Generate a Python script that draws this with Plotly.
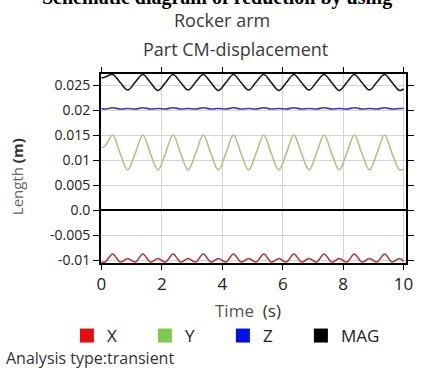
import plotly.graph_objects as go

# ---- data ----
time_s = [0.0, 0.12, 0.37, 0.62, 0.87, 1.12, 1.37, 1.62, 1.87, 2.12, 2.37, 2.62, 2.87,
          3.12, 3.37, 3.62, 3.87, 4.12, 4.37, 4.62, 4.87, 5.12, 5.37, 5.62, 5.87,
          6.12, 6.37, 6.62, 6.87, 7.12, 7.37, 7.62, 7.87, 8.12, 8.37, 8.62, 8.87,
          9.12, 9.37, 9.62, 9.87, 10.0]

mag_m = [0.0264, 0.0266, 0.0271, 0.0255, 0.0240, 0.0256, 0.0271, 0.0255, 0.0239,
         0.0255, 0.0271, 0.0255, 0.0240, 0.0256, 0.0271, 0.0255, 0.0239, 0.0255,
         0.0271, 0.0255, 0.0240, 0.0256, 0.0271, 0.0255, 0.0239, 0.0255, 0.0271,
         0.0255, 0.0240, 0.0256, 0.0271, 0.0255, 0.0239, 0.0255, 0.0271, 0.0255,
         0.0240, 0.0256, 0.0271, 0.0255, 0.0239, 0.0242]

y_m = [0.0124, 0.0128, 0.0150, 0.0113, 0.0080, 0.0114, 0.0150, 0.0113, 0.0080,
       0.0114, 0.0150, 0.0113, 0.0080, 0.0114, 0.0150, 0.0113, 0.0080, 0.0114,
       0.0150, 0.0113, 0.0080, 0.0114, 0.0150, 0.0113, 0.0080, 0.0114, 0.0150,
       0.0113, 0.0080, 0.0114, 0.0150, 0.0113, 0.0080, 0.0114, 0.0150, 0.0113,
       0.0080, 0.0114, 0.0150, 0.0113, 0.0080, 0.0082]

z_m = [0.0203, 0.0202, 0.02045, 0.0202, 0.0203, 0.0202, 0.02045, 0.0202, 0.0203,
       0.0202, 0.02045, 0.0202, 0.0203, 0.0202, 0.02045, 0.0202, 0.0203, 0.0202,
       0.02045, 0.0202, 0.0203, 0.0202, 0.02045, 0.0202, 0.0203, 0.0202, 0.02045,
       0.0202, 0.0203, 0.0202, 0.02045, 0.0202, 0.0203, 0.0202, 0.02045, 0.0202,
       0.0203, 0.0202, 0.02045, 0.0202, 0.0203, 0.0203]

x_m = [-0.0104, -0.0104, -0.0088, -0.0104, -0.0097, -0.0104, -0.0088, -0.0104, -0.0097,
       -0.0104, -0.0088, -0.0104, -0.0097, -0.0104, -0.0088, -0.0104, -0.0097, -0.0104,
       -0.0088, -0.0104, -0.0097, -0.0104, -0.0088, -0.0104, -0.0097, -0.0104, -0.0088,
       -0.0104, -0.0097, -0.0104, -0.0088, -0.0104, -0.0097, -0.0104, -0.0088, -0.0104,
       -0.0097, -0.0104, -0.0088, -0.0104, -0.0097, -0.0103]

series_names = ["X", "Y", "Z", "MAG"]
line_colors = ["#a83c3c", "#a9c77e", "#3c3c96", "#1a1a1a"]
legend_colors = ["#e01010", "#80c850", "#0010e0", "#000000"]

x_ticks = [0, 2, 4, 6, 8, 10]
y_ticks = [-0.01, -0.005, 0.0, 0.005, 0.01, 0.015, 0.02, 0.025]
y_ticktext = ["-0.01", "-0.005", "0.0", "0.005", "0.01", "0.015", "0.02", "0.025"]

# ---- figure ----
W, H = 422, 371
L, R, T, B = 101, 8, 74, 108
PW, PH = W - L - R, H - T - B

def px_x(x):
    return (x - L) / PW

def px_y(y):
    return (H - B - y) / PH

FONT = "Open Sans"
fig = go.Figure()

for name, vals, col in zip(series_names, [x_m, y_m, z_m, mag_m], line_colors):
    fig.add_trace(go.Scatter(x=time_s, y=vals, mode="lines", name=name,
                             line=dict(color=col, width=1.6, shape="spline", smoothing=1.0),
                             showlegend=False, hoverinfo="skip"))

for name, col in zip(series_names, legend_colors):
    fig.add_trace(go.Scatter(x=[None], y=[None], mode="markers", name=name,
                             marker=dict(symbol="square", size=14, color=col)))

fig.update_layout(
    width=W, height=H,
    margin=dict(l=L, r=R, t=T, b=B),
    paper_bgcolor="white", plot_bgcolor="white",
    font=dict(family=FONT, color="#222222"),
    showlegend=True,
    legend=dict(orientation="h", x=px_x(66), xanchor="left", y=px_y(318), yanchor="top",
                font=dict(size=17, color="#222222"), entrywidth=33, entrywidthmode="pixels",
                itemclick=False, bgcolor="rgba(0,0,0,0)"),
)

fig.update_xaxes(range=[-0.016, 10.08], tickvals=x_ticks, ticks="outside", ticklen=5,
                 tickcolor="#000", showline=True, linecolor="#000", linewidth=2,
                 mirror="ticks", showgrid=True, gridcolor="#d4d4d4", gridwidth=1,
                 zeroline=False, tickfont=dict(size=17, color="#222"))
fig.update_yaxes(range=[-0.0106, 0.0272], tickvals=y_ticks, ticktext=y_ticktext,
                 ticks="outside", ticklen=6, tickcolor="#000", showline=True,
                 linecolor="#000", linewidth=2, mirror="ticks", showgrid=True,
                 gridcolor="#d4d4d4", gridwidth=1, zeroline=True, zerolinecolor="#000",
                 zerolinewidth=2, tickfont=dict(size=14, color="#222"))

annots = [
    dict(text="<b>Schematic diagram of reduction by using</b>", x=px_x(402), y=px_y(-3),
         xanchor="right", yanchor="middle",
         font=dict(family="Liberation Serif", size=20, color="#000")),
    dict(text="Rocker arm", x=px_x(225), y=px_y(20), xanchor="center", yanchor="middle",
         font=dict(size=18, color="#3a3a3a")),
    dict(text="Part CM-displacement", x=px_x(239), y=px_y(49), xanchor="center",
         yanchor="middle", font=dict(size=18, color="#3a3a3a")),
    dict(text="<span style='color:#666'>Length</span> <b>(m)</b>", x=px_x(15), y=px_y(177),
         xanchor="center", yanchor="middle", textangle=-90,
         font=dict(size=15, color="#333")),
    dict(text="<span style='color:#555'>Time</span>  (s)", x=px_x(252), y=px_y(310),
         xanchor="center", yanchor="middle", font=dict(size=17, color="#333")),
    dict(text="Analysis type:transient", x=px_x(1), y=px_y(358), xanchor="left",
         yanchor="middle", font=dict(size=16, color="#333")),
]
for a in annots:
    a.update(xref="paper", yref="paper", showarrow=False)
    fig.add_annotation(**a)

fig.write_html("out.html", config={"displayModeBar": False},
               post_script="document.body.style.margin='0';document.body.style.overflow='hidden';")
